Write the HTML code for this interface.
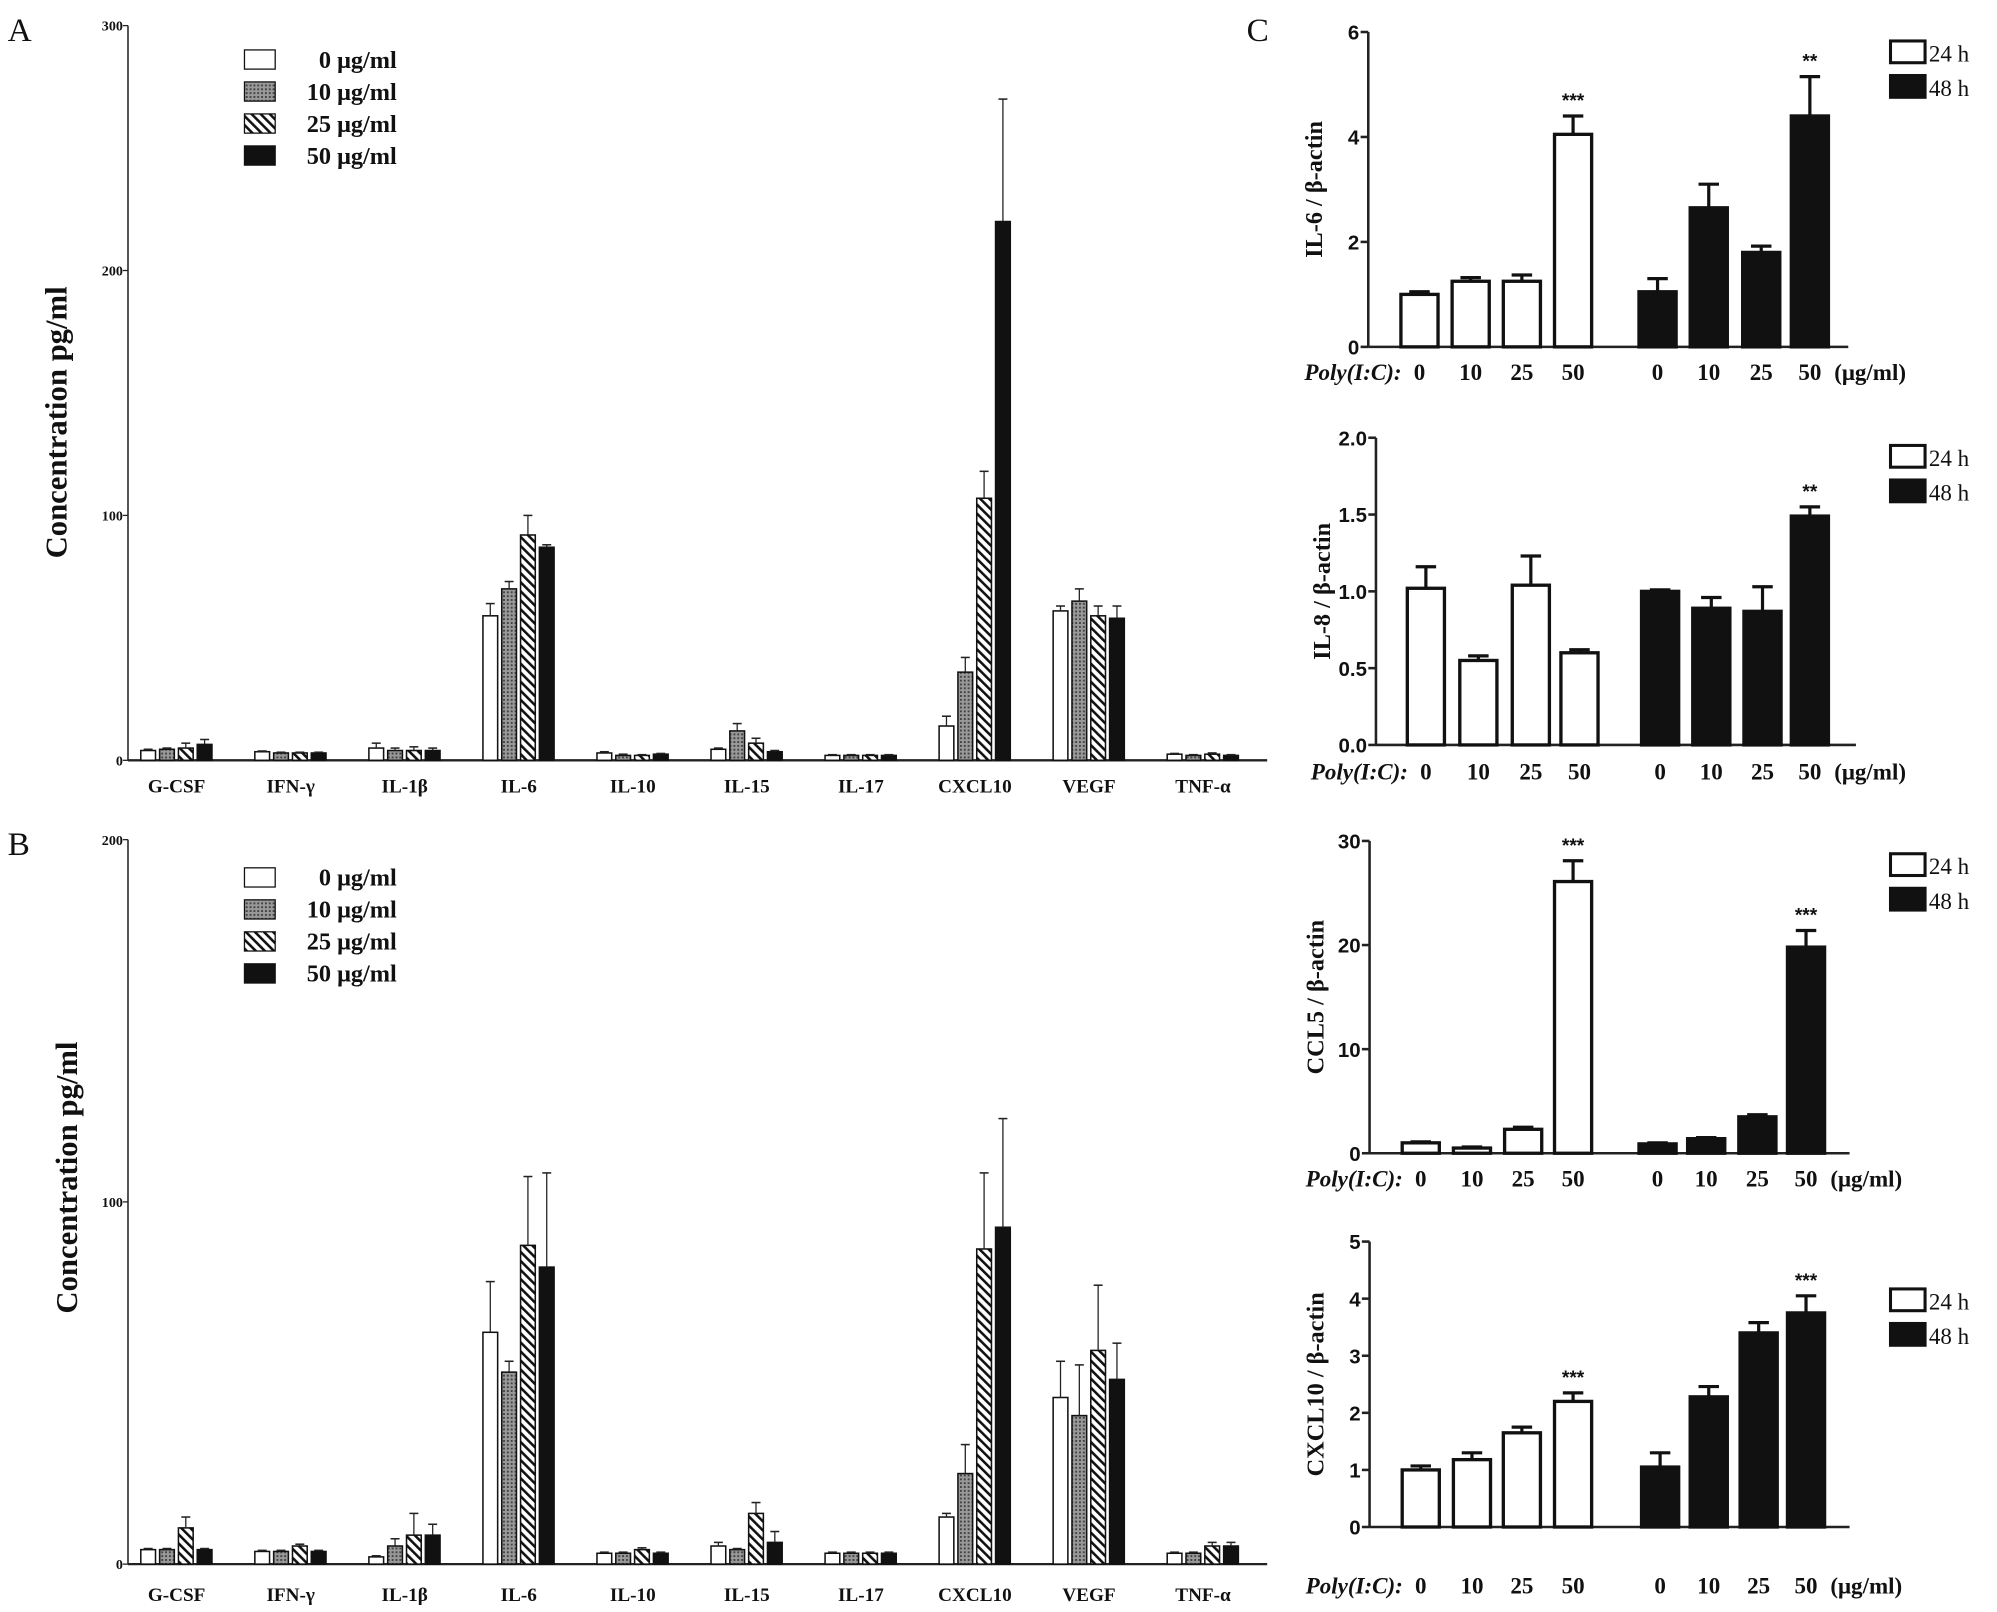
<!DOCTYPE html>
<html><head><meta charset="utf-8"><style>
html,body{margin:0;padding:0;background:#fff;}
svg{display:block;}
text{font-family:"Liberation Serif",serif;font-weight:bold;fill:#111;}
.sans{font-family:"Liberation Sans",sans-serif;}
</style></head><body>
<svg id="fig" width="1997" height="1612" viewBox="0 0 1560.2 1259.4" xmlns="http://www.w3.org/2000/svg">
<defs>
<pattern id="dots" width="3" height="3" patternUnits="userSpaceOnUse"><rect width="3" height="3" fill="#999"/><rect width="1.5" height="1.5" fill="#444"/></pattern>
<pattern id="hatch" width="5" height="5" patternUnits="userSpaceOnUse" patternTransform="rotate(-45)"><rect width="5" height="5" fill="#fff"/><rect width="2" height="5" fill="#111"/></pattern>
</defs>
<text x="6" y="32" font-size="26" style="font-weight:normal">A</text>
<text x="6" y="668" font-size="26" style="font-weight:normal">B</text>
<text x="974" y="32" font-size="26" style="font-weight:normal">C</text>
<g id="gA"></g>
<g id="gB"></g>
<g id="gC"></g>
</svg>
<script>
const categories = ["G-CSF","IFN-γ","IL-1β","IL-6","IL-10","IL-15","IL-17","CXCL10","VEGF","TNF-α"];
const doses = ["0 μg/ml","10 μg/ml","25 μg/ml","50 μg/ml"];
const aTicks = [0,100,200,300];
const aVals0 = [4,3.5,5,59,3,4.5,2,14,61,2.5];
const aVals10 = [4.5,3,4,70,2,12,2,36,65,2];
const aVals25 = [5,3,4,92,2,7,2,107,59,2.5];
const aVals50 = [6.5,3,4,87,2.5,3.5,2,220,58,2];
const aErr0 = [0.5,0.3,2,5,0.5,0.5,0.3,4,2,0.3];
const aErr10 = [0.5,0.3,1,3,0.5,3,0.3,6,5,0.3];
const aErr25 = [2,0.3,1.5,8,0.3,2,0.3,11,4,0.5];
const aErr50 = [2,0.3,1,1,0.3,0.5,0.3,50,5,0.3];
const bTicks = [0,100,200];
const bVals0 = [4,3.5,2,64,3,5,3,13,46,3];
const bVals10 = [4,3.5,5,53,3,4,3,25,41,3];
const bVals25 = [10,5,8,88,4,14,3,87,59,5];
const bVals50 = [4,3.5,8,82,3,6,3,93,51,5];
const bErr0 = [0.3,0.3,0.3,14,0.3,1,0.3,1,10,0.3];
const bErr10 = [0.3,0.3,2,3,0.3,0.3,0.3,8,14,0.3];
const bErr25 = [3,0.5,6,19,0.5,3,0.3,21,18,1];
const bErr50 = [0.3,0.3,3,26,0.3,3,0.3,30,10,1];

const cDoses = ["0","10","25","50"];
const il6Ticks=[0,2,4,6], il6_24=[1.0,1.25,1.25,4.05], il6_24e=[0.05,0.07,0.12,0.35], il6_48=[1.05,2.65,1.8,4.4], il6_48e=[0.25,0.45,0.12,0.75], il6Stars24=["","","","***"], il6Stars48=["","","","**"];
const il8Ticks=[0,0.5,1,1.5,2], il8_24=[1.02,0.55,1.04,0.6], il8_24e=[0.14,0.03,0.19,0.02], il8_48=[1.0,0.89,0.87,1.49], il8_48e=[0.01,0.07,0.16,0.06], il8Stars24=["","","",""], il8Stars48=["","","","**"];
const ccl5Ticks=[0,10,20,30], ccl5_24=[1.0,0.5,2.3,26.1], ccl5_24e=[0.1,0.1,0.2,2.0], ccl5_48=[0.9,1.4,3.5,19.8], ccl5_48e=[0.1,0.1,0.2,1.6], ccl5Stars24=["","","","***"], ccl5Stars48=["","","","***"];
const cx10Ticks=[0,1,2,3,4,5], cx10_24=[1.0,1.18,1.65,2.2], cx10_24e=[0.07,0.12,0.1,0.15], cx10_48=[1.05,2.28,3.4,3.75], cx10_48e=[0.25,0.18,0.18,0.3], cx10Stars24=["","","","***"], cx10Stars48=["","","","***"];

const NS="http://www.w3.org/2000/svg";
function mk(parent,tag,attrs,txt){const e=document.createElementNS(NS,tag);for(const k in attrs)e.setAttribute(k,attrs[k]);if(txt!==undefined)e.textContent=txt;parent.appendChild(e);return e;}

function panelAB(g, vals, errs, ticks, ymax, x0, yTop, y0, xEnd, labY, legY){
  const y = v => y0 - (v/ymax)*(y0-yTop);
  const xc = i => 138 + i*89.1;
  const fills=["#fff","url(#dots)","url(#hatch)","#111"];
  let a=mk(g,'line',{x1:x0,y1:yTop,x2:x0,y2:y0,stroke:'#222','stroke-width':1.2});
  
  
  a=mk(g,'line',{x1:x0,y1:y0,x2:xEnd,y2:y0,stroke:'#222','stroke-width':1.8});
  
  
  ticks.forEach(t=>{
    mk(g,'line',{x1:x0-4,y1:y(t),x2:x0,y2:y(t),stroke:'#222'});
    const tx=mk(g,'text',{x:x0-4,y:y(t)+4,'font-size':11,'text-anchor':'end'},String(t));
    
    
  });
  categories.forEach((c,i)=>{
    const tx=mk(g,'text',{x:xc(i),y:labY,'font-size':15,'text-anchor':'middle'},c);
    
    
    for(let s=0;s<4;s++){
      const v=vals[s][i], e=errs[s][i];
      const bx=xc(i)-28+s*14.7, w=11.5;
      const r=mk(g,'rect',{x:bx,y:y(v),width:w,height:y0-y(v),fill:fills[s],stroke:'#111','stroke-width':1.2});
      
      
      mk(g,'line',{x1:bx+w/2,y1:y(v),x2:bx+w/2,y2:y(v+e),stroke:'#222','stroke-width':1});
      mk(g,'line',{x1:bx+w/2-3.5,y1:y(v+e),x2:bx+w/2+3.5,y2:y(v+e),stroke:'#222','stroke-width':1.2});
    }
  });
  doses.forEach((d,s)=>{
    const ly=legY+s*25;
    const r=mk(g,'rect',{x:191,y:ly-13,width:24,height:15,fill:fills[s],stroke:'#111','stroke-width':1});
    
    
    const tx=mk(g,'text',{x:310,y:ly+1,'font-size':19,'text-anchor':'end'},d);
    
    
  });
}
function yTitle(g,x,y,txt,size){
  const t=mk(g,'text',{x:0,y:0,'font-size':size,'text-anchor':'middle',transform:`translate(${x},${y}) rotate(-90)`},txt);
  
  
}
const gA=document.getElementById('gA'), gB=document.getElementById('gB'), gC=document.getElementById('gC');
panelAB(gA,[aVals0,aVals10,aVals25,aVals50],[aErr0,aErr10,aErr25,aErr50],aTicks,300,100,20,594,990,619,52);
yTitle(gA,52,330,"Concentration    pg/ml",24);
panelAB(gB,[bVals0,bVals10,bVals25,bVals50],[bErr0,bErr10,bErr25,bErr50],bTicks,200,100,656,1222,990,1251,691);
yTitle(gB,60,920,"Concentration    pg/ml",24);

function panelC(title,ticks,ymax,v24,e24,v48,e48,s24,s48,ax,yTop,y0,labY,legY,xs24,xs48,tickFmt){
  const g=mk(gC,'g',{});
  
  
  const y=v=>y0-(v/ymax)*(y0-yTop);
  let a=mk(g,'line',{x1:ax,y1:yTop,x2:ax,y2:y0,stroke:'#222','stroke-width':2});
  
  
  a=mk(g,'line',{x1:ax,y1:y0,x2:ax+375,y2:y0,stroke:'#222','stroke-width':2});
  
  
  ticks.forEach(t=>{
    mk(g,'line',{x1:ax-6,y1:y(t),x2:ax,y2:y(t),stroke:'#222','stroke-width':2});
    const tx=mk(g,'text',{x:ax-7,y:y(t)+6,'font-size':16,'text-anchor':'end','class':'sans'},tickFmt(t));
    
    
  });
  yTitle(g,ax-36,(yTop+y0)/2,title,19);
  const draw=(vals,errs,stars,xs,fill,grp)=>{
    vals.forEach((v,i)=>{
      const cx=xs[i], w=29;
      mk(g,'line',{x1:cx,y1:y(v),x2:cx,y2:y(v+errs[i]),stroke:'#111','stroke-width':2.5});
      mk(g,'line',{x1:cx-8,y1:y(v+errs[i]),x2:cx+8,y2:y(v+errs[i]),stroke:'#111','stroke-width':2.5});
      const r=mk(g,'rect',{x:cx-w/2,y:y(v),width:w,height:y0-y(v),fill:fill,stroke:'#111','stroke-width':2.6});
      
      
      if(stars[i]){
        const st=mk(g,'text',{x:cx,y:y(v+errs[i])-7,'font-size':15,'text-anchor':'middle','class':'sans'},stars[i]);
        
        
      }
      const tx=mk(g,'text',{x:cx,y:labY,'font-size':18,'text-anchor':'middle'},cDoses[i]);
      
      
    });
  };
  draw(v24,e24,s24,xs24,'#fff','24h');
  draw(v48,e48,s48,xs48,'#111','48h');
  let t=mk(g,'text',{x:xs24[0]-14,y:labY,'font-size':18,'text-anchor':'end','font-style':'italic'},'Poly(I:C):');
  
  
  t=mk(g,'text',{x:xs48[3]+19,y:labY,'font-size':18},'(μg/ml)');
  
  
  [['24 h','#fff'],['48 h','#111']].forEach((L,k)=>{
    const ly=legY+k*27;
    const r=mk(g,'rect',{x:1477,y:ly-9,width:27,height:17,fill:L[1],stroke:'#111','stroke-width':2.4});
    
    
    const tx=mk(g,'text',{x:1507,y:ly+7,'font-size':18,style:'font-weight:normal'},L[0]);
    
    
  });
}
const f0=t=>String(t), f1=t=>t.toFixed(1);
panelC("IL-6 / β-actin",il6Ticks,6,il6_24,il6_24e,il6_48,il6_48e,il6Stars24,il6Stars48,1069,25,271,297,41,[1109,1149,1189,1229],[1295,1335,1376,1414],f0);
panelC("IL-8 / β-actin",il8Ticks,2,il8_24,il8_24e,il8_48,il8_48e,il8Stars24,il8Stars48,1075,342,582,609,357,[1114,1155,1196,1234],[1297,1337,1377,1414],f1);
panelC("CCL5 / β-actin",ccl5Ticks,30,ccl5_24,ccl5_24e,ccl5_48,ccl5_48e,ccl5Stars24,ccl5Stars48,1070,657,901,927,676,[1110,1150,1190,1229],[1295,1333,1373,1411],f0);
panelC("CXCL10 / β-actin",cx10Ticks,5,cx10_24,cx10_24e,cx10_48,cx10_48e,cx10Stars24,cx10Stars48,1070,970,1193,1245,1016,[1110,1150,1189,1229],[1297,1335,1374,1411],f0);
</script>
</body></html>
